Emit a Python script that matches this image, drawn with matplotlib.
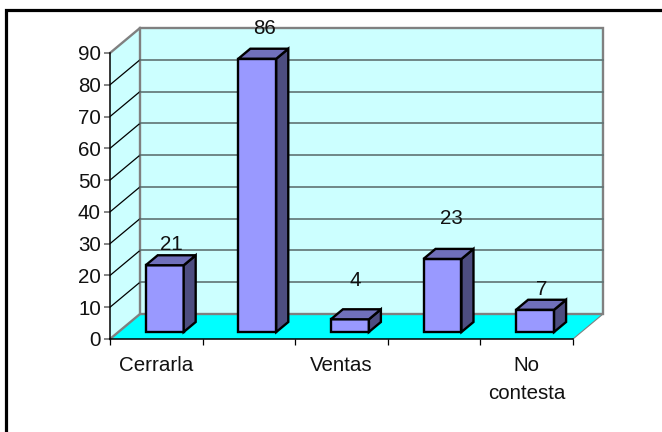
import matplotlib
matplotlib.use('Agg')
import matplotlib.pyplot as plt
from matplotlib.lines import Line2D
from matplotlib.patches import Polygon

plt.rcParams['font.family'] = ['Liberation Sans', 'DejaVu Sans']

categories = ['Cerrarla', '', 'Ventas', '', 'No\ncontesta']
values = [21, 86, 4, 23, 7]
y_ticks = [0, 10, 20, 30, 40, 50, 60, 70, 80, 90]
# value labels were moved by hand in the original, so each has its own gap
label_gap = [0.4, 3.4, 6.1, 6.5, 0.1]
label_shift = [0.0, 0.01, -0.01, 0.02, 0.0]

W, H = 662, 432
# depth of the 3d box, in data units
DX, DY = 30 / 92.6, 25 / 3.178
BAR_W = 0.41
BAR_D0, BAR_D1 = 0.28, 0.68
FS = 14.8

fig = plt.figure(figsize=(W / 100, H / 100), dpi=100)
# only the top and left of the outer frame are visible
fig.add_artist(Line2D([6 / W, 6 / W, 1], [0, 1 - 9.5 / H, 1 - 9.5 / H], transform=fig.transFigure,
                      color='black', linewidth=2.3, solid_joinstyle='miter'))

ax = fig.add_axes([110 / W, 1 - 339 / H, 463 / W, 286 / H])
ax.set_xlim(0, len(values))
ax.set_ylim(0, 90)
ax.patch.set_visible(False)
for s in ['top', 'right']:
    ax.spines[s].set_visible(False)


def poly(pts, **kw):
    p = Polygon(pts, closed=True, clip_on=False, **kw)
    ax.add_patch(p)
    return p


n = len(values)
# side wall, back wall, floor
poly([(0, 0), (DX, DY), (DX, 90 + DY), (0, 90)], facecolor='#ccffff', edgecolor='none', zorder=1)
poly([(DX, DY), (n + DX, DY), (n + DX, 90 + DY), (DX, 90 + DY)], facecolor='#ccffff',
     edgecolor='#808080', linewidth=1.7, zorder=1.2)
poly([(0, 0), (n, 0), (n + DX, DY), (DX, DY)], facecolor='#00ffff', edgecolor='none', zorder=1.1)
ax.plot([0, DX], [0, DY], color='#808080', lw=1.7, clip_on=False, zorder=1.5)
ax.plot([0, DX], [90, 90 + DY], color='#808080', lw=1.7, clip_on=False, zorder=1.5)
ax.plot([n, n + DX], [0, DY], color='#808080', lw=0.8, clip_on=False, zorder=1.5)

for t in y_ticks[1:-1]:
    ax.plot([0, DX], [t, t + DY], color='black', lw=0.9, clip_on=False, zorder=1.4)
    ax.plot([DX, n + DX], [t + DY, t + DY], color='#5f7373', lw=1.2, clip_on=False, zorder=1.4)

# bars
for i, v in enumerate(values):
    x0 = i + 0.5 - BAR_W / 2 + BAR_D0 * DX
    x1 = x0 + BAR_W
    y0 = BAR_D0 * DY
    ddx = (BAR_D1 - BAR_D0) * DX
    ddy = (BAR_D1 - BAR_D0) * DY
    style = dict(edgecolor='black', linewidth=1.7, joinstyle='miter', zorder=3)
    poly([(x0, y0), (x1, y0), (x1, y0 + v), (x0, y0 + v)], facecolor='#9999ff', **style)
    poly([(x1, y0), (x1 + ddx, y0 + ddy), (x1 + ddx, y0 + v + ddy), (x1, y0 + v)],
         facecolor='#4d4d80', **style)
    poly([(x0, y0 + v), (x1, y0 + v), (x1 + ddx, y0 + v + ddy), (x0 + ddx, y0 + v + ddy)],
         facecolor='#7070bb', **style)
    ax.text(i + 0.5 + 0.5 * DX + label_shift[i], y0 + v + ddy + label_gap[i], str(v),
            ha='center', va='bottom', fontsize=FS, color='#111111', zorder=4)

ax.set_yticks(y_ticks)
ax.set_xticks(range(n + 1))
ax.set_xticklabels([])
ax.set_xticks([i + 0.5 for i in range(n)], minor=True)
ax.set_xticklabels(categories, minor=True, fontsize=FS, linespacing=1.6, va='top', color='#111111')
ax.tick_params(axis='x', which='minor', length=0, pad=12)
ax.tick_params(axis='x', which='major', length=4.5, width=0.9, color='black')
ax.tick_params(axis='y', length=4.5, width=1.2, color='#707070', labelsize=FS, pad=2,
               labelcolor='#111111')
for s in ['left', 'bottom']:
    ax.spines[s].set_zorder(2)
    ax.spines[s].set_linewidth(1.1)

fig.savefig('out.png', dpi=100)
